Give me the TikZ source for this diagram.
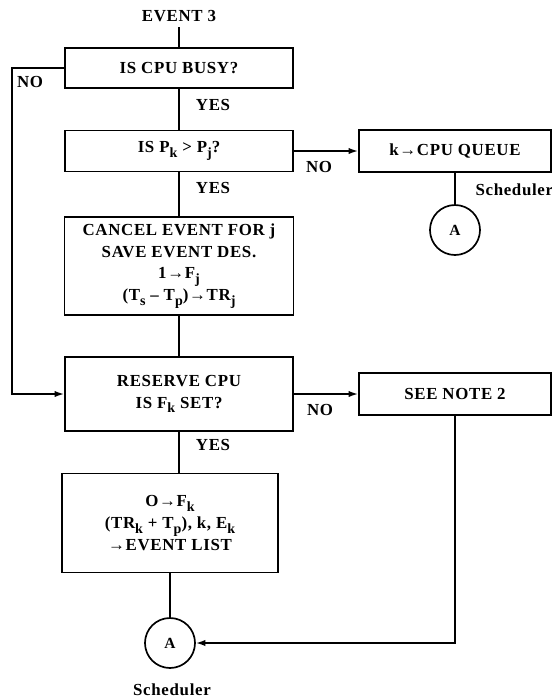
\documentclass[tikz,border=0pt]{standalone}
\usepackage{fontspec}
\setmainfont{Liberation Serif}[LetterSpace=4]
\usetikzlibrary{arrows.meta}
\newcommand{\lsub}[1]{\raisebox{-0.6ex}{\fontsize{10}{10}\selectfont #1}}
\tikzset{
  every picture/.style={line width=1.2pt},
  box/.style={draw, rectangle, align=center, inner sep=3pt, font=\fontsize{12}{15.5}\selectfont\bfseries},
  ring/.style={draw, circle, minimum size=1.25cm, inner sep=0pt, font=\fontsize{11}{12}\selectfont\bfseries},
  lbl/.style={font=\fontsize{12}{13}\selectfont\bfseries},
  arrow/.style={-{Latex[length=2.4mm, width=1.6mm]}},
}

\begin{document}
\begin{tikzpicture}[x=0.025cm, y=-0.025cm]
  \useasboundingbox (0,0) rectangle (552,700);
  % main column
  \node[lbl] (ev) at (179,16) {EVENT 3};
  \node[box, minimum width=5.7cm, minimum height=1cm] (busy) at (179,68) {IS CPU BUSY?};
  \node[box, minimum width=5.7cm, minimum height=1.03cm] (prio) at (179,151) {IS P\lsub{k} > P\lsub{j}?};
  \node[box, minimum width=5.72cm, minimum height=2.45cm] (cancel) at (179,266) {CANCEL EVENT FOR j\\SAVE EVENT DES.\\1→F\lsub{j}\\(T\lsub{s} -- T\lsub{p})→TR\lsub{j}};
  \node[box, minimum width=5.7cm, minimum height=1.85cm] (reserve) at (179,394) {RESERVE CPU\\IS F\lsub{k} SET?};
  \node[box, minimum width=5.4cm, minimum height=2.48cm] (post) at (170,523) {O→F\lsub{k}\\(TR\lsub{k} + T\lsub{p}), k, E\lsub{k}\\→EVENT LIST};
  \node[ring] (cb) at (170,643) {A};
  \node[lbl] (schb) at (172,690) {Scheduler};
  % right side
  \node[box, minimum width=4.8cm, minimum height=1.05cm] (queue) at (455,151) {k→CPU QUEUE};
  \node[ring] (ca) at (455,230) {A};
  \node[lbl, anchor=west] (scha) at (470,190) {Scheduler};
  \node[box, minimum width=4.8cm, minimum height=1.05cm] (note) at (455,394) {SEE NOTE 2};
  % labels
  \node[lbl] (no1) at (30,82) {NO};
  \node[lbl] (yes1) at (213,105) {YES};
  \node[lbl] (no2) at (319,167) {NO};
  \node[lbl] (yes2) at (213,188) {YES};
  \node[lbl] (no3) at (320,410) {NO};
  \node[lbl] (yes3) at (213,445) {YES};
  % connectors
  \draw (ev) -- (busy);
  \draw (busy) -- (prio);
  \draw (prio) -- (cancel);
  \draw (cancel) -- (reserve);
  \draw (reserve.south) -- (reserve.south |- post.north);
  \draw (post) -- (cb);
  \draw (queue) -- (ca);
  \draw[arrow] (prio) -- (queue);
  \draw[arrow] (reserve) -- (note);
  \draw[arrow] (busy.west) -- ++(-52,0) |- (reserve.west);
  \draw[arrow] (note.south) |- (cb);
\end{tikzpicture}
\end{document}
